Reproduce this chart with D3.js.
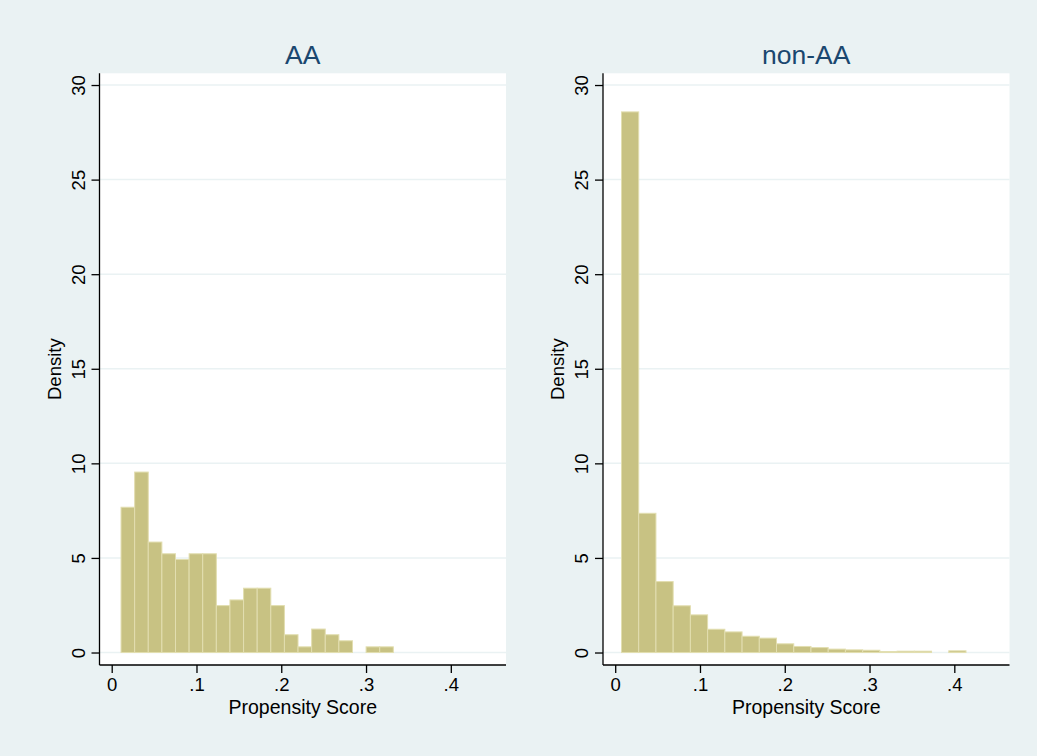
<!DOCTYPE html>
<html>
  <head>
    <meta charset="UTF-8" />
    <title>Propensity Score Histograms</title>
    <script src="https://d3js.org/d3.v7.min.js"></script>
    <style>
      body { margin: 0; background: #eaf2f3; }
      svg { display: block; font-family: "Liberation Sans", Arial, sans-serif; }
      .grid line { stroke: #eaf2f3; stroke-width: 1.5; }
      .axis path, .axis line { stroke: #000; stroke-width: 1.3; }
      .axis text { fill: #000; font-size: 18.5px; }
      .bar { fill: #c8c283; stroke: #e2deb0; stroke-width: 1; }
    </style>
  </head>
  <body>
    <script>
      // panel titles
      const panelNames = ["AA", "non-AA"];

      // histogram bins (lower edge of first bin and bin width, in score units)
      const aaFirstBin = 0.011;
      const aaBinWidth = 0.01606;
      const nonAaFirstBin = 0.0074;
      const nonAaBinWidth = 0.02032;

      // bar heights (density)
      const aaDensity = [7.68, 9.54, 5.84, 5.22, 4.92, 5.22, 5.22, 2.48, 2.78, 3.4,
        3.4, 2.48, 0.94, 0.3, 1.24, 0.94, 0.62, 0, 0.3, 0.3];
      const nonAaDensity = [28.58, 7.36, 3.75, 2.47, 1.99, 1.23, 1.09, 0.86, 0.76, 0.46,
        0.32, 0.26, 0.18, 0.14, 0.12, 0.05, 0.07, 0.07, 0, 0.09];

      const xTicks = [0, 0.1, 0.2, 0.3, 0.4];
      const xTickLabels = ["0", ".1", ".2", ".3", ".4"];
      const yTicks = [0, 5, 10, 15, 20, 25, 30];

      const width = 1037, height = 756;
      const svg = d3.select("body").append("svg")
        .attr("width", width).attr("height", height);

      svg.append("rect").attr("width", width).attr("height", height).attr("fill", "#eaf2f3");

      const panels = [
        { name: panelNames[0], left: 99.5, first: aaFirstBin, bw: aaBinWidth, values: aaDensity },
        { name: panelNames[1], left: 603, first: nonAaFirstBin, bw: nonAaBinWidth, values: nonAaDensity },
      ];
      const plotW = 406.5, plotTop = 73.3, plotBottom = 665;

      const y = d3.scaleLinear().domain([-0.66, 30.62]).range([plotBottom, plotTop]);

      panels.forEach((p) => {
        const x = d3.scaleLinear().domain([-0.0144, 0.4651]).range([p.left, p.left + plotW]);
        const g = svg.append("g");

        g.append("rect")
          .attr("x", p.left).attr("y", plotTop)
          .attr("width", plotW).attr("height", plotBottom - plotTop)
          .attr("fill", "#fff");

        g.append("g").attr("class", "grid")
          .selectAll("line").data(yTicks).join("line")
          .attr("x1", p.left).attr("x2", p.left + plotW)
          .attr("y1", (d) => y(d)).attr("y2", (d) => y(d));

        g.selectAll("rect.bar")
          .data(p.values.map((v, i) => ({ x0: p.first + i * p.bw, x1: p.first + (i + 1) * p.bw, v })).filter((d) => d.v > 0))
          .join("rect")
          .attr("class", "bar")
          .attr("x", (d) => x(d.x0))
          .attr("width", (d) => x(d.x1) - x(d.x0))
          .attr("y", (d) => y(d.v))
          .attr("height", (d) => y(0) - y(d.v));

        // x axis
        const xAxis = g.append("g").attr("class", "axis")
          .attr("transform", `translate(0,${plotBottom})`)
          .call(d3.axisBottom(x).tickValues(xTicks).tickFormat((d, i) => xTickLabels[i]).tickSize(8).tickPadding(5).tickSizeOuter(0));
        xAxis.select(".domain").attr("d", `M${p.left},0H${p.left + plotW}`);

        // y axis
        const yAxis = g.append("g").attr("class", "axis")
          .attr("transform", `translate(${p.left},0)`)
          .call(d3.axisLeft(y).tickValues(yTicks).tickSize(8).tickSizeOuter(0));
        yAxis.select(".domain").attr("d", `M0,${plotTop}V${plotBottom}`);
        yAxis.selectAll(".tick text")
          .attr("x", null).attr("dy", null)
          .attr("transform", "translate(-15,0) rotate(-90)")
          .attr("text-anchor", "middle");

        g.append("text")
          .attr("x", p.left + plotW / 2).attr("y", 64)
          .attr("text-anchor", "middle")
          .attr("fill", "#1a476f").attr("font-size", 26.5)
          .text(p.name);

        g.append("text")
          .attr("x", p.left + plotW / 2).attr("y", 714)
          .attr("text-anchor", "middle")
          .attr("font-size", 19.5)
          .text("Propensity Score");

        g.append("text")
          .attr("transform", `translate(${p.left - 39},${(plotTop + plotBottom) / 2}) rotate(-90)`)
          .attr("text-anchor", "middle")
          .attr("font-size", 18.5)
          .text("Density");
      });
    </script>
  </body>
</html>
